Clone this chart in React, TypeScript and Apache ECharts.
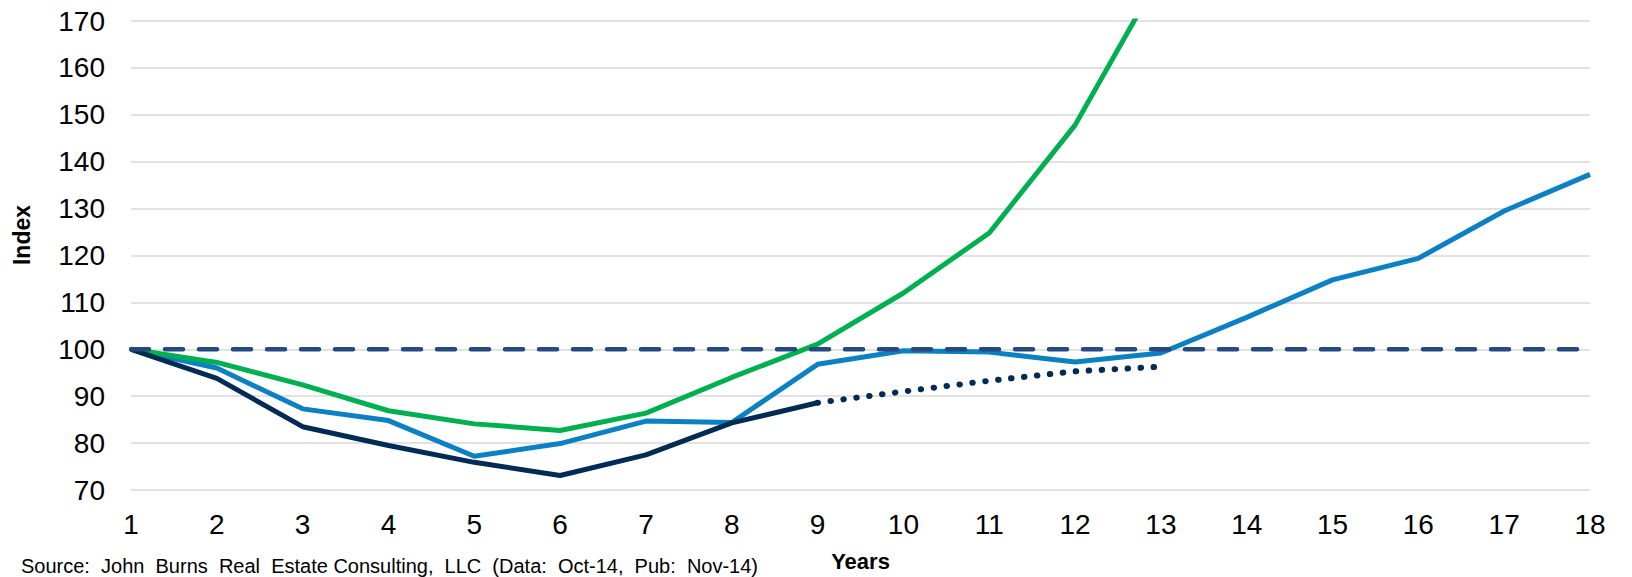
import React, { useEffect, useRef } from "react";
import * as echarts from "echarts";

const years = ["1","2","3","4","5","6","7","8","9","10","11","12","13","14","15","16","17","18"];
const navySolid = [100, 93.8, 83.5, 79.5, 75.9, 73.1, 77.5, 84.3, 88.6, null, null, null, null, null, null, null, null, null];
const navyDotted = [null, null, null, null, null, null, null, null, 88.6, 91.0, 93.3, 95.3, 96.3, null, null, null, null, null];
const blueSeries = [100, 96.0, 87.3, 84.8, 77.2, 79.9, 84.7, 84.4, 96.8, 99.7, 99.4, 97.3, 99.2, 106.8, 114.8, 119.4, 129.5, 137.3];
const greenSeries = [100, 97.2, 92.4, 86.9, 84.1, 82.7, 86.4, 94.0, 101.1, 112.0, 124.8, 147.8, 180.1, null, null, null, null, null];
const baseline = [100, 100, 100, 100, 100, 100, 100, 100, 100, 100, 100, 100, 100, 100, 100, 100, 100, 100];

const FONT = "'Liberation Sans', Arial, sans-serif";
const sourceText = "Source:\u00a0 John\u00a0 Burns\u00a0 Real\u00a0 Estate Consulting,\u00a0 LLC\u00a0 (Data:\u00a0 Oct-14,\u00a0 Pub:\u00a0 Nov-14)";

export default function App() {
  const ref = useRef<HTMLDivElement>(null);
  useEffect(() => {
    if (!ref.current) return;
    const chart = echarts.init(ref.current, null, { renderer: "svg" });
    chart.setOption({
      animation: false,
      backgroundColor: "#ffffff",
      textStyle: { fontFamily: FONT },
      grid: { left: 131, right: 42, top: 21, bottom: 85, containLabel: false },
      xAxis: {
        type: "category",
        data: years,
        boundaryGap: false,
        axisLine: { show: false },
        axisTick: { show: false },
        splitLine: { show: false },
        axisLabel: { interval: 0, fontSize: 28, color: "#000", margin: 20, fontFamily: FONT },
        name: "Years",
        nameLocation: "middle",
        nameGap: 60,
        nameTextStyle: { fontSize: 22, fontWeight: "bold", color: "#000", fontFamily: FONT },
      },
      yAxis: {
        type: "value",
        min: 70,
        max: 170,
        interval: 10,
        axisLine: { show: false },
        axisTick: { show: false },
        axisLabel: { fontSize: 28, color: "#000", margin: 26, fontFamily: FONT },
        splitLine: { lineStyle: { color: "#D9D9D9", width: 1.5 } },
      },
      graphic: [
        {
          type: "text",
          x: 22,
          y: 235,
          rotation: Math.PI / 2,
          style: {
            text: "Index",
            fontSize: 23,
            fontWeight: "bold",
            fill: "#000",
            fontFamily: FONT,
            align: "center",
            verticalAlign: "middle",
          },
        },
        {
          type: "text",
          x: 21,
          y: 576,
          style: {
            text: sourceText,
            fontSize: 20,
            fill: "#000",
            fontFamily: FONT,
            align: "left",
            verticalAlign: "bottom",
          },
        },
      ],
      series: [
        {
          type: "line",
          data: blueSeries,
          symbol: "none",
          lineStyle: { color: "#0B80C2", width: 5 },
        },
        {
          type: "line",
          data: greenSeries,
          symbol: "none",
          clip: true,
          lineStyle: { color: "#00B050", width: 5 },
        },
        {
          type: "line",
          data: navySolid,
          symbol: "none",
          lineStyle: { color: "#002B55", width: 5 },
        },
        {
          type: "line",
          data: navyDotted,
          symbol: "none",
          lineStyle: { color: "#002B55", width: 6, type: [0.5, 12.5], cap: "round" },
        },
        {
          type: "line",
          data: baseline,
          symbol: "none",
          lineStyle: { color: "#254A7E", width: 4.5, type: [18, 16], cap: "round" },
        },
      ],
    });
    return () => chart.dispose();
  }, []);
  return (
    <div
      ref={ref}
      style={{ position: "absolute", left: 0, top: 0, width: 1632, height: 577 }}
    />
  );
}
